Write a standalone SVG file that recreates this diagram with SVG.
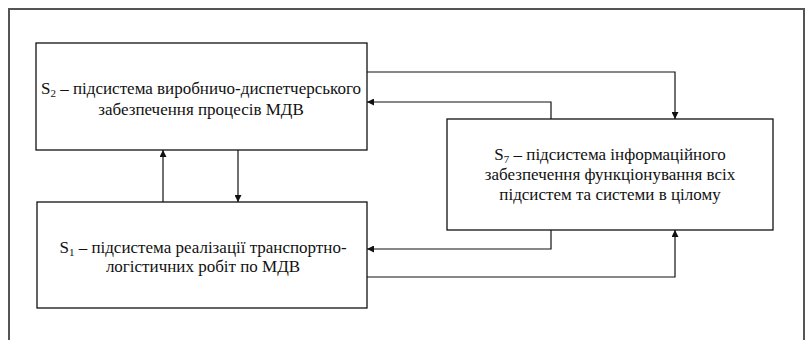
<svg xmlns="http://www.w3.org/2000/svg" width="811" height="340" viewBox="0 0 811 340">
  <style>
    .frame { fill: none; stroke: #555; stroke-width: 2; }
    .box { fill: #fff; stroke: #111; stroke-width: 1.3; }
    .link { fill: none; stroke: #111; stroke-width: 1.2; }
    .lbl { font-family: "Liberation Serif", "Times New Roman", serif; font-size: 17px; fill: #111; text-anchor: middle; }
    .sub { font-size: 11px; }
  </style>
  <defs>
    <marker id="arrow" viewBox="0 0 10 10" refX="10" refY="5" markerWidth="9" markerHeight="7" markerUnits="userSpaceOnUse" orient="auto">
      <path d="M0,0 L10,5 L0,10 z" fill="#111"/>
    </marker>
  </defs>
  <rect width="811" height="340" fill="#fff"/>

  <!-- outer frame, open at the bottom -->
  <path class="frame" d="M9,341 V9 H804 V341"/>

  <g id="connectors">
    <!-- S2 -> S7 -->
    <path class="link" d="M367,72 H675 V119" marker-end="url(#arrow)"/>
    <!-- S7 -> S2 -->
    <path class="link" d="M551,119 V102 H367" marker-end="url(#arrow)"/>
    <!-- S1 -> S2 -->
    <path class="link" d="M163,202 V150" marker-end="url(#arrow)"/>
    <!-- S2 -> S1 -->
    <path class="link" d="M238,150 V202" marker-end="url(#arrow)"/>
    <!-- S7 -> S1 -->
    <path class="link" d="M551,230 V249 H367" marker-end="url(#arrow)"/>
    <!-- S1 -> S7 -->
    <path class="link" d="M367,277 H675 V230" marker-end="url(#arrow)"/>
  </g>

  <g id="s2">
    <rect class="box" x="36" y="43" width="331" height="107"/>
    <text class="lbl" x="201" y="94">S<tspan class="sub" dy="3">2</tspan><tspan dy="-3"> – підсистема виробничо-диспетчерського</tspan></text>
    <text class="lbl" x="201" y="115">забезпечення процесів МДВ</text>
  </g>

  <g id="s1">
    <rect class="box" x="37" y="202" width="330" height="106"/>
    <text class="lbl" x="203" y="253">S<tspan class="sub" dy="3">1</tspan><tspan dy="-3"> – підсистема реалізації транспортно-</tspan></text>
    <text class="lbl" x="203" y="272">логістичних робіт по МДВ</text>
  </g>

  <g id="s7">
    <rect class="box" x="447" y="119" width="326" height="111"/>
    <text class="lbl" x="610" y="160">S<tspan class="sub" dy="3">7</tspan><tspan dy="-3"> – підсистема інформаційного</tspan></text>
    <text class="lbl" x="610" y="180">забезпечення функціонування всіх</text>
    <text class="lbl" x="610" y="200">підсистем та системи в цілому</text>
  </g>
</svg>
